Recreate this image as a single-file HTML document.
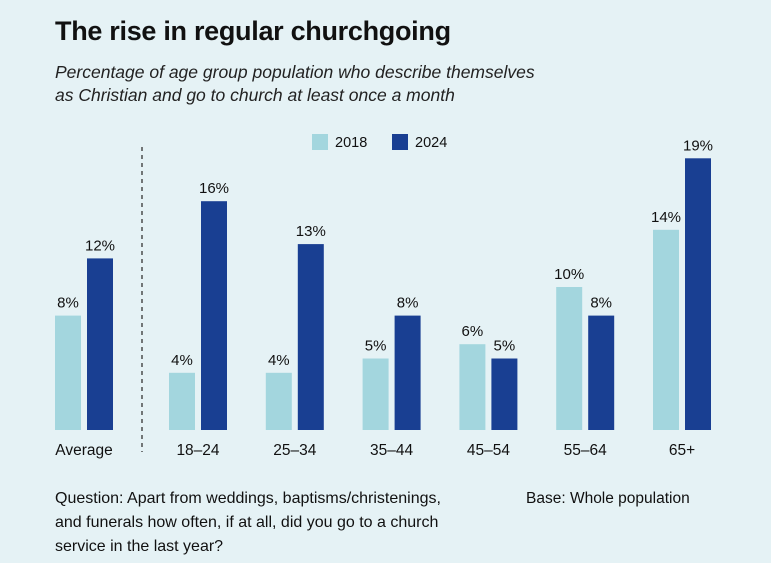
<!DOCTYPE html>
<html><head><meta charset="utf-8"><style>
body{margin:0;width:771px;height:563px;background:#e5f2f5;font-family:"Liberation Sans",sans-serif;overflow:hidden;position:relative;color:#111}
.t{position:absolute;white-space:nowrap}
</style></head><body>
<div class="t" style="left:55px;top:16px;font-size:27px;font-weight:bold;letter-spacing:-0.3px">The rise in regular churchgoing</div>
<div class="t" style="left:55px;top:61px;font-size:17.5px;font-style:italic;line-height:23px;color:#222">Percentage of age group population who describe themselves<br>as Christian and go to church at least once a month</div>
<div class="t" style="left:55px;top:487px;font-size:16px;line-height:24px">Question: Apart from weddings, baptisms/christenings,<br>and funerals how often, if at all, did you go to a church<br>service in the last year?</div>
<div class="t" style="left:526px;top:487px;font-size:15.5px;line-height:24px">Base: Whole population</div>
<svg id="c" width="771" height="563" style="position:absolute;left:0;top:0"></svg>
<script>
const categories=["Average","18–24","25–34","35–44","45–54","55–64","65+"];
const values2018=[8,4,4,5,6,10,14];
const values2024=[12,16,13,8,5,8,19];
const seriesNames=["2018","2024"];
const colors=["#a3d6de","#193f92"];
const svg=document.getElementById('c');
const NS="http://www.w3.org/2000/svg";
const base=430, pxPer=14.3;
function y(v){return base-v*pxPer;}
function cx(i){return i===0?84:198+(i-1)*96.8;}
function mk(tag,attrs){const e=document.createElementNS(NS,tag);for(const k in attrs)e.setAttribute(k,attrs[k]);svg.appendChild(e);return e;}
const dl=mk('line',{x1:142,x2:142,y1:147,y2:452,stroke:'#333','stroke-width':1.3,'stroke-dasharray':'4,4'});


function txt(x,yy,s,size,anchor){const t=mk('text',{x:x,y:yy,'font-size':size,'text-anchor':anchor||'middle',fill:'#111','font-family':'Liberation Sans, sans-serif'});t.textContent=s;return t;}
categories.forEach((c,i)=>{
  const x=cx(i);
  [values2018[i],values2024[i]].forEach((v,s)=>{
    const bx=s===0?x-29:x+3;
    const r=mk('rect',{x:bx,y:y(v),width:26,height:v*pxPer,fill:colors[s]});
    
    
    const l=txt(bx+13,y(v)-8,v+'%',15);
    
    
  });
  const cl=txt(x,455,c,15.5);
  
  
});
seriesNames.forEach((n,s)=>{
  const lx=312+s*80;
  const sw=mk('rect',{x:lx,y:134,width:16,height:16,fill:colors[s]});
  
  
  const lt=txt(lx+23,147,n,14.5,'start');
  
  
});
</script>
</body></html>
